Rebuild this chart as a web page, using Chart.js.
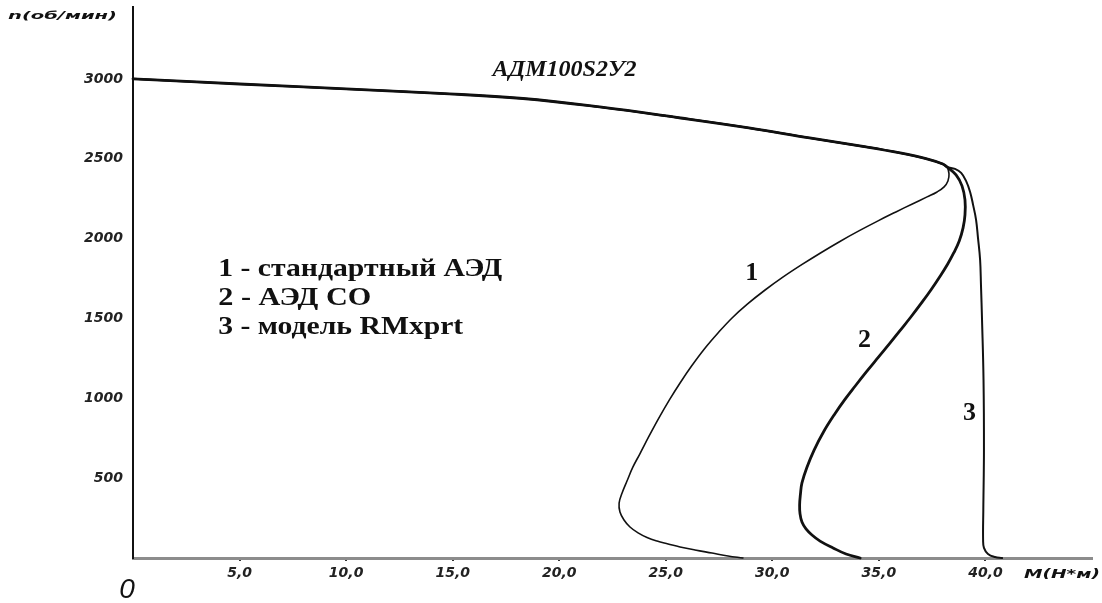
<!DOCTYPE html>
<html lang="ru">
<head>
<meta charset="utf-8">
<title>АДМ100S2У2 — механические характеристики</title>
<script src="https://cdn.jsdelivr.net/npm/chart.js@4.4.1/dist/chart.umd.min.js"></script>
<style>
  html, body { margin: 0; padding: 0; background: #ffffff; }
  canvas { display: block; }
</style>
</head>
<body>
<canvas id="chart" width="1102" height="603"></canvas>
<script>
// Stable (working) branch shared by all three characteristics, up to the breakdown point
const stableTorque = [0, 5.0, 10.0, 14.4, 18.3, 21.9, 25.7, 28.9, 31.75, 34.4, 36.0, 37.25, 38.0, 38.2];
const stableSpeed  = [3000, 2968, 2937, 2909, 2877, 2824, 2755, 2693, 2630, 2574, 2536, 2499, 2467, 2448];

// 1 - standard induction motor: unstable branch after the breakdown point
const torque1 = [38.29, 38.24, 38.06, 37.73, 37.26, 36.57, 35.80, 34.96, 34.06, 33.13, 32.26, 31.36, 30.51, 29.66,
                 28.84, 28.11, 27.45, 26.81, 26.21, 25.67, 25.17, 24.68, 24.22, 23.78, 23.46, 23.18, 22.95, 22.81,
                 22.85, 23.04, 23.32, 23.70, 24.12, 24.59, 25.11, 25.67, 26.37, 27.17, 27.92, 28.62];
const speed1  = [2405, 2361, 2324, 2292, 2261, 2217, 2167, 2111, 2048, 1979, 1910, 1835, 1760, 1678,
                 1591, 1503, 1409, 1309, 1202, 1096, 990, 877, 764, 651, 570, 482, 407, 344,
                 288, 238, 194, 157, 128, 106, 88, 69, 50, 31, 13, 0];

// 2 - АЭД СО
const torque2 = [38.62, 38.90, 39.04, 39.04, 38.95, 38.77, 38.51, 38.23, 37.88, 37.44, 37.00, 36.50, 35.98, 35.49,
                 34.95, 34.41, 33.89, 33.39, 32.93, 32.40, 31.96, 31.63, 31.39, 31.32, 31.28, 31.30, 31.39, 31.58,
                 31.86, 32.24, 32.85, 33.46, 34.12];
const speed2  = [2399, 2330, 2242, 2148, 2067, 1985, 1910, 1841, 1766, 1678, 1597, 1509, 1422, 1340,
                 1253, 1165, 1077, 990, 902, 789, 676, 570, 470, 401, 332, 276, 225, 182,
                 144, 106, 63, 25, 0];

// 3 - RMxprt model
const torque3 = [38.57, 38.86, 39.09, 39.28, 39.42, 39.56, 39.65, 39.75, 39.79, 39.84, 39.91, 39.93, 39.90, 39.89,
                 39.93, 40.12, 40.45, 40.78];
const speed3  = [2436, 2411, 2361, 2292, 2211, 2117, 2004, 1866, 1710, 1491, 1115, 676, 301, 113,
                 63, 25, 6, 0];

// Axis ticks
const xTicks = [5, 10, 15, 20, 25, 30, 35, 40];
const yTicks = [500, 1000, 1500, 2000, 2500, 3000];

// Texts
const chartTitle = 'АДМ100S2У2';
const legendLines = ['1 - стандартный АЭД', '2 - АЭД СО', '3 - модель RMxprt'];
const curveNames = ['1', '2', '3'];
const yAxisTitle = 'n(об/мин)';
const xAxisTitle = 'М(Н*м)';
const originLabel = '0';

function toPoints(ms, ns) {
  return ms.map((m, i) => ({ x: m, y: ns[i] }));
}
const stablePts = toPoints(stableTorque, stableSpeed);

const series = [
  { pts: stablePts.concat(toPoints(torque1, speed1)), width: 1.6 },
  { pts: stablePts.concat(toPoints(torque2, speed2)), width: 2.8 },
  { pts: stablePts.concat(toPoints(torque3, speed3)), width: 2.0 }
];

const gostFont = '"DejaVu Sans", sans-serif';
const serifFont = '"Liberation Serif", "Times New Roman", serif';

// Draws text stretched horizontally to a given width (wide lettering)
function drawWide(ctx, text, left, cy, width, font) {
  ctx.save();
  ctx.font = font;
  ctx.textBaseline = 'middle';
  ctx.textAlign = 'left';
  const w = ctx.measureText(text).width;
  ctx.translate(left, cy);
  ctx.scale(width / w, 1);
  ctx.fillText(text, 0, 0);
  ctx.restore();
}

const textPlugin = {
  id: 'chartTexts',
  afterDraw(chart) {
    const { ctx, scales } = chart;
    const xs = scales.x, ys = scales.y;
    ctx.save();
    ctx.fillStyle = '#111';

    // model title
    ctx.font = 'italic bold 24px ' + serifFont;
    ctx.textAlign = 'center';
    ctx.textBaseline = 'middle';
    ctx.fillText(chartTitle, xs.getPixelForValue(20.25), ys.getPixelForValue(3056));

    // legend block
    const legendSpeeds = [1810, 1628, 1447];
    const legendWidths = [284, 153, 245];
    legendLines.forEach((t, i) => {
      drawWide(ctx, t, xs.getPixelForValue(4.0), ys.getPixelForValue(legendSpeeds[i]),
               legendWidths[i], 'bold 26px ' + serifFont);
    });

    // curve numbers
    ctx.font = 'bold 26px ' + serifFont;
    ctx.textAlign = 'center';
    ctx.textBaseline = 'middle';
    const namePos = [[29.03, 1785], [34.33, 1365], [39.25, 908]];
    curveNames.forEach((t, i) => {
      ctx.fillText(t, xs.getPixelForValue(namePos[i][0]), ys.getPixelForValue(namePos[i][1]));
    });

    // axis titles
    drawWide(ctx, yAxisTitle, 8, 16, 109, 'italic bold 11px ' + gostFont);
    drawWide(ctx, xAxisTitle, 1024, 575, 76, 'italic bold 12px ' + gostFont);

    // origin mark
    ctx.font = 'italic 28px "Liberation Sans", sans-serif';
    ctx.textAlign = 'center';
    ctx.textBaseline = 'middle';
    ctx.fillText(originLabel, 127, 590);
    ctx.restore();
  }
};

new Chart(document.getElementById('chart'), {
  type: 'scatter',
  data: {
    datasets: series.map((s, i) => ({
      label: curveNames[i],
      data: s.pts,
      showLine: true,
      borderColor: '#111',
      backgroundColor: '#111',
      borderWidth: s.width,
      borderJoinStyle: 'round',
      borderCapStyle: 'round',
      pointRadius: 0,
      pointHoverRadius: 0,
      tension: 0.4,
      fill: false,
      clip: false
    }))
  },
  options: {
    responsive: false,
    animation: false,
    events: [],
    layout: { padding: { top: 7, right: 10, left: 0, bottom: 0 } },
    plugins: {
      legend: { display: false },
      tooltip: { enabled: false },
      title: { display: false }
    },
    scales: {
      x: {
        type: 'linear',
        min: 0,
        max: 45,
        afterBuildTicks(scale) { scale.ticks = xTicks.map(v => ({ value: v })); },
        afterFit(scale) {
          scale.height = 45;
          scale.paddingLeft = 0;
          scale.paddingRight = 0;
        },
        border: { display: true, color: '#8c8c8c', width: 3 },
        grid: { display: true, drawOnChartArea: false, drawTicks: true, tickLength: 3, color: '#333', lineWidth: 2 },
        ticks: {
          color: '#222',
          padding: 4,
          maxRotation: 0,
          autoSkip: false,
          font: { family: gostFont, size: 14, style: 'italic', weight: 'bold' },
          callback: v => v.toFixed(1).replace('.', ',')
        }
      },
      y: {
        type: 'linear',
        min: 0,
        max: 3450,
        afterBuildTicks(scale) { scale.ticks = yTicks.map(v => ({ value: v })); },
        afterFit(scale) {
          scale.width = 133;
          scale.paddingTop = 0;
          scale.paddingBottom = 0;
        },
        border: { display: true, color: '#111', width: 2 },
        grid: { display: false, drawTicks: false },
        ticks: {
          color: '#222',
          padding: 10,
          autoSkip: false,
          font: { family: gostFont, size: 14, style: 'italic', weight: 'bold' },
          callback: v => String(v)
        }
      }
    }
  },
  plugins: [textPlugin]
});
</script>
</body>
</html>
